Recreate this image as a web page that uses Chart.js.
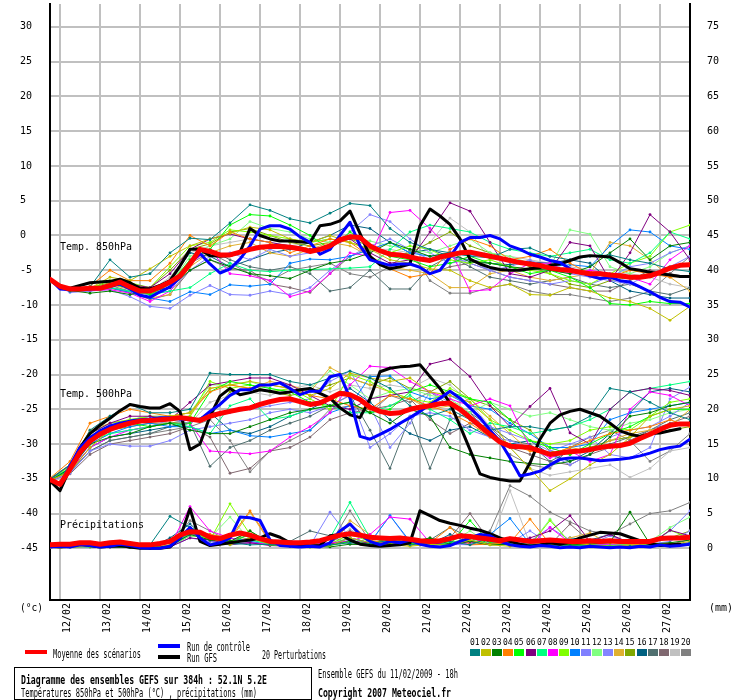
<!DOCTYPE html>
<html>
<head>
<meta charset="utf-8">
<script src="https://cdn.jsdelivr.net/npm/chart.js@4.4.1/dist/chart.umd.min.js"></script>
<style>
  body { margin: 0; background: #fff; }
  canvas { display: block; }
</style>
</head>
<body>
<canvas id="chart" width="740" height="700"></canvas>
<script>
// hours since 11/02/2009 18h (run start). mean / control / GFS every 6h, members every 12h
const dayLabels = ['12/02','13/02','14/02','15/02','16/02','17/02','18/02','19/02','20/02','21/02','22/02','23/02','24/02','25/02','26/02','27/02'];
const dayTickHours = [6,30,54,78,102,126,150,174,198,222,246,270,294,318,342,366];
const tempTicks = [-45,-40,-35,-30,-25,-20,-15,-10,-5,0,5,10,15,20,25,30];
const precipTicks = [0,5,10,15,20,25,30,35,40,45,50,55,60,65,70,75];

const memberColors = ['#008080','#c0c000','#008000','#ff8000','#00ff00','#800080','#00ff80','#ff00ff','#80ff00','#0080ff',
                      '#8080ff','#80ff80','#8484ff','#e0b030','#80a800','#006080','#507070','#806870','#c0c0c0','#808080'];

// Temp 850hPa (°C)
const mean850 = [-6.3,-7.3,-7.7,-7.7,-7.6,-7.6,-7.2,-6.7,-7.4,-8.0, -8.0,-7.4,-6.7,-5.8,-4.1,-2.0,-2.3,-2.8,-2.8,-2.4,
  -2.0,-1.7,-1.6,-1.6,-1.7,-1.9,-2.3,-2.0,-1.5,-0.6, -0.2,-0.3,-1.5,-2.2,-2.7,-2.8,-3.1,-3.4,-3.6,-3.1,
  -2.8,-2.5,-2.4,-2.7,-3.0,-3.3,-3.6,-3.9,-4.1,-4.3, -4.7,-4.9,-5.0,-5.3,-5.5,-5.5,-5.7,-5.8,-6.0,-6.0, -5.8,-5.3,-4.7,-4.3,-4.2];
const control850 = [-6.3,-7.7,-7.8,-7.7,-7.7,-7.6,-7.3,-7.0,-7.7,-8.6, -8.9,-8.1,-7.4,-6.0,-3.9,-2.6,-4.1,-5.4,-4.8,-3.4,
  -1.5,0.9,1.4,1.4,0.9,-0.2,-1.0,-2.7,-2.0,0.0, 1.9,-1.5,-3.5,-3.9,-4.3,-4.1,-4.1,-4.6,-5.5,-5.0,
  -3.1,-1.0,-0.3,-0.3,0.0,-0.5,-1.5,-2.0,-2.7,-3.1, -3.6,-3.9,-4.8,-5.3,-5.8,-6.2,-6.0,-6.5,-6.7,-7.4, -8.1,-8.9,-9.5,-9.6,-10.3];
const gfs850 = [-6.3,-7.4,-7.6,-7.2,-6.8,-6.7,-6.6,-6.3,-6.8,-7.6, -7.7,-7.2,-6.5,-4.4,-2.0,-2.0,-2.9,-3.0,-2.9,-2.4,
  1.0,0.0,-0.5,-0.8,-0.8,-0.9,-1.0,1.4,1.6,2.1, 3.5,0.3,-3.0,-4.2,-4.8,-4.5,-4.1,1.4,3.8,2.8,
  1.6,-0.5,-3.4,-4.1,-4.6,-4.9,-5.0,-5.0,-4.8,-4.6, -4.3,-4.1,-3.6,-3.1,-2.9,-3.0,-3.1,-3.9,-4.8,-5.0, -5.3,-5.5,-5.7,-5.9,-5.9];
const members850 = [
  [-6.4,-7.8,-7.4,-3.5,-6.0,-5.5,-2.5,-0.4,-0.6,1.8, 4.4,3.6,2.4,1.8,3.2,4.6,4.3,1.0,-1.0,-2.0, -2.5,-3.0,-3.2,-2.0,-1.8,-3.0,-3.5,-3.0,-2.8,-3.5, -4.0,-4.8,-5.2],
  [-6.5,-7.8,-7.6,-6.0,-6.5,-4.8,-3.0,-1.5,-0.5,0.3, 1.2,0.8,-0.5,-1.0,0.0,-1.0,-2.0,-3.5,-4.0,-4.8, -5.0,-6.5,-7.5,-7.0,-8.5,-8.6,-7.5,-8.0,-9.0,-9.5, -10.5,-12.2,-10.2],
  [-6.6,-7.9,-8.3,-8.0,-8.5,-8.0,-7.5,-5.0,-3.5,-4.5, -5.5,-5.8,-6.2,-5.0,-4.0,-3.5,-2.5,-1.0,-2.0,-3.0, -2.5,-3.8,-4.0,-4.5,-4.8,-5.0,-5.5,-4.5,-2.5,-0.5, -3.5,-1.5,-1.0],
  [-6.3,-7.7,-7.3,-5.0,-6.5,-6.5,-4.0,0.0,-1.5,0.5, -0.5,-1.0,-2.5,-1.5,-0.5,-1.0,-3.0,-4.8,-6.0,-5.5, -2.0,-0.5,-1.5,-3.5,-3.0,-2.0,-4.0,-5.5,-6.0,-5.0, -5.5,-6.0,-5.8],
  [-6.6,-8.0,-7.8,-7.0,-7.5,-8.5,-7.0,-3.5,-2.0,1.5, 3.0,2.8,1.5,0.0,-2.0,0.5,-1.5,-3.0,-3.5,-4.5, -4.0,-3.0,-4.0,-4.5,-5.5,-5.0,-6.0,-7.5,-9.8,-10.0, -9.5,-9.8,-9.8],
  [-6.5,-7.8,-7.5,-7.2,-7.0,-7.5,-5.5,-2.0,-0.5,0.2, -0.5,-1.0,-1.5,-2.0,-1.5,-0.5,-2.5,-4.0,-3.5,0.5, 4.7,3.5,-1.0,-5.5,-6.0,-5.0,-1.0,-1.5,-6.5,-2.5, 3.0,0.5,-3.5],
  [-6.4,-7.9,-7.8,-7.5,-8.0,-8.5,-8.0,-7.5,-5.5,-4.0, -5.0,-5.2,-5.0,-4.9,-4.8,-4.7,-4.5,-2.0,0.5,1.5, 1.0,0.5,-1.0,-2.0,-2.5,-3.0,-2.5,-2.0,-3.5,-4.0, -2.5,0.5,-0.5],
  [-6.5,-8.0,-7.9,-7.8,-8.3,-9.5,-8.0,-4.0,-2.0,-5.5, -5.8,-6.5,-8.8,-8.0,-5.5,-2.5,-3.0,3.3,3.6,1.0, -2.0,-8.0,-7.8,-5.5,-4.0,-4.0,-5.5,-5.0,-5.5,-6.0, -7.0,-3.5,-1.5],
  [-6.4,-7.7,-7.6,-6.5,-6.8,-7.5,-4.5,-1.5,-1.0,0.8, 0.5,0.0,-0.5,-1.0,-0.5,-1.0,-2.0,-2.5,-1.5,-2.0, -3.5,-4.0,-3.5,-4.5,-5.0,-5.5,-6.5,-7.0,-5.5,-4.0, -3.0,0.5,1.5],
  [-6.6,-8.1,-7.7,-7.5,-8.2,-9.0,-9.5,-8.1,-8.5,-7.1, -7.3,-7.0,-4.0,-3.4,-3.5,-3.0,-2.0,-1.0,-2.5,-3.0, -2.5,-2.8,-3.0,-3.5,-4.0,-4.5,-4.2,-4.5,-1.5,0.8, 0.5,-1.5,-2.0],
  [-6.7,-8.2,-8.0,-7.8,-8.8,-10.2,-10.5,-8.6,-7.2,-8.5, -8.6,-8.0,-8.5,-7.5,-5.0,-3.0,-1.5,-0.5,-2.0,-3.5, -3.0,-4.0,-5.0,-6.0,-6.5,-7.0,-6.5,-7.0,-6.0,-4.5, -4.0,-2.5,-1.5],
  [-6.5,-7.8,-7.7,-7.0,-7.5,-8.5,-7.0,-3.0,-1.5,-0.5, 2.0,1.0,0.5,-0.5,-1.0,-0.5,-0.8,-1.5,-2.0,-2.5, -1.5,-0.5,-2.5,-3.0,-4.0,-4.5,0.8,0.2,-4.5,-5.5, -4.5,-2.5,-1.5],
  [-6.6,-8.0,-7.9,-7.5,-8.0,-8.5,-8.0,-5.0,-3.0,-2.5, -3.5,-2.0,-3.0,-2.5,-2.0,0.5,3.0,2.0,-0.5,-2.5, -4.0,-3.5,-5.0,-4.5,-3.5,-5.0,-5.5,-6.0,-6.5,-7.0, -5.5,-4.5,-3.0],
  [-6.5,-7.9,-7.8,-7.0,-7.8,-9.0,-8.5,-4.5,-2.5,-1.5, -1.0,-2.5,-3.0,-2.0,-1.0,-1.5,-3.0,-4.5,-5.0,-5.5, -7.5,-7.5,-5.5,-5.0,-6.0,-6.5,-6.0,-5.5,-1.0,-1.5, -3.5,-6.0,-8.0],
  [-6.4,-7.8,-7.5,-6.8,-7.2,-7.5,-5.0,-2.0,-1.2,0.5, 1.0,0.0,-1.0,-1.5,-1.0,-0.5,-1.5,-3.0,-2.5,-1.0, 0.5,-1.5,-2.5,-3.5,-4.5,-5.5,-7.0,-7.5,-6.5,-6.0, -5.5,-4.5,-4.0],
  [-6.5,-7.9,-7.7,-7.0,-7.5,-8.0,-6.5,-2.5,-3.0,-4.5, -3.5,-2.5,-2.0,-1.0,0.0,1.5,1.0,-1.0,-2.5,-2.0, -3.0,-3.5,-4.0,-4.2,-3.8,-4.0,-3.5,-4.0,-6.5,-8.0, -8.5,-9.0,-9.0],
  [-6.6,-8.0,-8.0,-7.5,-8.0,-8.5,-7.5,-3.5,-2.0,-3.5, -4.5,-5.0,-4.5,-5.5,-8.0,-7.5,-5.0,-7.7,-7.7,-4.5, -3.0,-4.5,-6.0,-6.5,-7.0,-6.5,-6.0,-7.0,-7.5,-7.0, -8.0,-8.5,-7.5],
  [-6.5,-8.0,-7.9,-7.6,-8.2,-9.2,-8.5,-5.0,-3.5,-4.8, -5.0,-7.0,-7.5,-8.2,-5.5,-3.0,-2.0,-2.5,-3.0,-5.5, -4.5,-4.0,-5.0,-6.0,-6.5,-7.0,-7.5,-8.0,-8.0,-6.5, -5.0,-5.5,-6.0],
  [-6.5,-7.8,-7.6,-7.0,-7.5,-8.0,-6.0,-2.5,-1.5,-1.0, -0.5,-1.0,-1.5,-1.0,-0.5,-1.0,-2.0,-2.0,-2.5,-1.0, 2.5,0.5,-3.5,-3.0,-3.5,-4.0,-4.5,-5.0,-5.5,-5.5, -6.0,-7.0,-7.5],
  [-6.5,-7.9,-7.8,-7.2,-8.0,-9.0,-7.5,-4.0,-2.5,-4.0, -5.5,-6.5,-5.0,-4.5,-4.0,-5.5,-6.0,-4.5,-2.0,-6.5, -8.3,-8.3,-7.5,-7.0,-8.0,-8.5,-8.5,-9.0,-9.5,-9.0, -8.0,-5.5,-3.0]
];

// Temp 500hPa (°C)
const mean500 = [-35.1,-35.8,-33.6,-31.2,-29.6,-28.6,-27.9,-27.4,-27.0,-26.7, -26.6,-26.5,-26.4,-26.2,-26.4,-26.6,-26.0,-25.6,-25.3,-25.0,
  -24.8,-24.3,-23.9,-23.6,-23.5,-23.9,-24.3,-24.1,-23.4,-22.7, -22.9,-23.6,-24.7,-25.3,-25.6,-25.5,-25.0,-24.7,-24.5,-24.2,
  -24.1,-25.0,-26.2,-27.4,-28.6,-29.7,-30.3,-30.4,-30.5,-31.0, -31.5,-31.3,-31.1,-31.0,-30.8,-30.5,-30.3,-30.2,-29.9,-29.2, -28.6,-27.9,-27.3,-27.1,-27.1];
const control500 = [-35.1,-35.8,-33.1,-30.5,-29.1,-28.1,-27.4,-27.0,-26.7,-26.5, -26.4,-26.2,-26.2,-26.4,-26.5,-26.5,-25.3,-24.3,-23.0,-22.2,
  -22.2,-21.5,-21.5,-21.2,-22.0,-22.9,-22.4,-22.4,-20.3,-20.0, -23.4,-28.9,-29.3,-28.6,-27.9,-27.0,-26.2,-25.3,-24.3,-23.4,
  -22.4,-23.4,-24.8,-26.2,-28.0,-29.6,-32.0,-34.6,-34.3,-33.9, -33.0,-32.2,-32.0,-32.0,-32.2,-32.4,-32.3,-32.2,-32.0,-31.7, -31.3,-30.8,-30.5,-30.3,-29.3];
const gfs500 = [-35.3,-36.7,-33.5,-30.5,-28.5,-27.3,-26.3,-25.2,-24.3,-24.6, -24.8,-24.8,-24.2,-25.3,-30.8,-30.0,-26.0,-23.1,-22.0,-22.9,
  -22.6,-22.2,-22.4,-22.7,-22.5,-22.2,-22.0,-22.7,-23.4,-24.8, -25.8,-26.2,-23.5,-19.6,-19.1,-18.9,-18.8,-18.6,-20.3,-22.0,
  -24.1,-27.4,-30.8,-34.3,-34.8,-35.1,-35.3,-35.3,-32.7,-29.3, -27.0,-25.8,-25.3,-25.0,-25.5,-26.0,-27.0,-28.1,-28.6,-28.9, -28.5,-28.4,-28.1,-27.8,null];
const members500 = [
  [-35.0,-33.0,-28.0,-26.0,-24.3,-25.5,-25.5,-25.0,-19.8,-20.0, -20.0,-20.0,-21.0,-21.5,-20.5,-19.5,-20.5,-22.0,-24.5,-26.0, -25.0,-26.5,-28.0,-27.5,-27.5,-28.0,-27.5,-26.0,-22.0,-22.5, -24.0,-25.5,-26.5],
  [-35.2,-34.0,-30.5,-28.0,-27.0,-26.5,-26.0,-25.5,-22.0,-21.5, -21.0,-21.5,-22.0,-23.0,-22.0,-19.8,-20.5,-21.0,-20.5,-22.5, -23.0,-24.0,-26.5,-30.5,-33.5,-36.7,-35.0,-33.0,-31.5,-29.0, -26.0,-25.0,-24.5],
  [-35.3,-33.5,-30.0,-29.0,-28.5,-27.5,-27.0,-28.0,-28.5,-28.5, -27.5,-26.5,-25.5,-25.0,-24.5,-24.0,-25.5,-27.0,-25.0,-26.0, -30.5,-31.5,-32.0,-32.5,-32.8,-33.0,-32.5,-31.5,-29.0,-26.0, -25.5,-24.5,-24.0],
  [-34.9,-32.5,-27.0,-26.0,-25.0,-25.5,-26.0,-25.5,-22.5,-21.5, -22.0,-21.5,-22.0,-23.0,-23.5,-24.5,-25.0,-23.0,-23.5,-24.5, -25.5,-27.0,-29.0,-30.0,-31.0,-31.5,-30.5,-29.5,-28.5,-28.0, -27.5,-26.5,-27.5],
  [-35.2,-33.8,-29.8,-28.0,-27.0,-27.5,-27.0,-27.0,-22.5,-21.0, -21.5,-22.0,-22.5,-24.0,-24.5,-24.0,-25.5,-25.0,-22.5,-21.5, -22.5,-23.5,-24.0,-26.5,-29.5,-30.5,-31.5,-30.0,-28.5,-27.5, -26.0,-25.0,-25.0],
  [-35.1,-33.0,-28.5,-27.0,-26.0,-26.0,-26.5,-24.0,-21.5,-21.0, -20.5,-20.5,-21.5,-23.0,-24.5,-25.0,-23.5,-23.0,-22.5,-18.5, -17.8,-20.3,-24.5,-27.5,-24.6,-22.0,-28.4,-30.0,-25.0,-22.5, -22.0,-22.3,-23.0],
  [-35.0,-33.5,-29.5,-28.5,-28.0,-27.5,-27.0,-27.5,-28.5,-24.5, -23.5,-26.5,-26.0,-25.0,-24.5,-25.5,-25.5,-24.5,-23.0,-25.0, -26.5,-28.5,-27.0,-27.5,-28.5,-28.0,-27.5,-26.5,-25.0,-22.5, -22.0,-21.5,-21.0],
  [-35.2,-33.8,-30.5,-29.0,-28.0,-27.5,-27.0,-27.0,-31.0,-31.2, -31.4,-31.0,-29.0,-27.5,-25.5,-21.5,-18.8,-19.0,-21.0,-22.5, -23.5,-24.5,-23.5,-24.5,-30.5,-32.0,-31.0,-32.5,-31.5,-25.0, -22.5,-23.0,-24.5],
  [-35.1,-33.2,-28.5,-27.0,-26.5,-26.0,-26.5,-26.0,-21.0,-22.0, -21.5,-22.5,-22.0,-23.5,-25.0,-20.0,-21.0,-22.5,-23.5,-24.0, -22.0,-23.5,-26.5,-28.0,-29.5,-30.0,-29.5,-28.0,-27.5,-28.0, -26.0,-24.0,-23.5],
  [-35.2,-33.5,-30.0,-28.5,-27.5,-27.0,-27.5,-27.5,-28.5,-28.0, -28.8,-29.0,-28.5,-28.0,-25.5,-24.5,-20.3,-20.2,-22.5,-23.5, -23.0,-24.5,-25.0,-27.0,-28.5,-30.5,-30.5,-30.0,-26.5,-25.5, -25.0,-24.5,-24.0],
  [-35.3,-34.2,-31.0,-30.0,-30.3,-30.3,-29.5,-28.0,-27.5,-27.0, -26.5,-25.5,-25.0,-25.5,-24.5,-23.0,-30.5,-28.5,-26.0,-25.5, -26.0,-28.0,-29.0,-29.5,-30.5,-31.5,-33.0,-31.5,-29.0,-28.0, -27.5,-26.0,-24.0],
  [-35.0,-33.2,-29.0,-27.5,-26.5,-26.0,-26.0,-25.5,-21.5,-21.5, -21.0,-22.0,-22.5,-22.0,-19.5,-21.5,-23.5,-22.5,-22.0,-23.0, -23.5,-25.5,-24.0,-25.0,-26.0,-25.5,-26.5,-27.5,-28.0,-27.0, -26.5,-25.5,-25.0],
  [-35.2,-33.8,-30.0,-28.5,-28.0,-27.5,-26.5,-27.0,-25.5,-25.5, -25.0,-24.5,-24.0,-23.5,-21.0,-19.5,-24.5,-30.5,-27.0,-22.5, -24.0,-26.0,-27.5,-28.5,-29.5,-31.0,-30.0,-29.0,-31.5,-32.0, -30.5,-23.5,-21.8],
  [-35.0,-33.0,-28.0,-27.0,-26.5,-26.0,-26.0,-26.0,-22.0,-21.5, -22.0,-21.0,-21.5,-22.5,-19.0,-20.5,-21.5,-22.5,-23.5,-25.0, -24.5,-23.5,-26.0,-28.5,-31.0,-31.5,-30.5,-31.0,-29.5,-28.5, -28.0,-27.5,-25.0],
  [-35.1,-33.5,-29.5,-28.0,-27.5,-27.0,-27.0,-26.5,-26.0,-22.5, -22.0,-22.5,-23.0,-22.5,-21.5,-20.5,-21.5,-20.5,-22.0,-22.5, -21.0,-23.5,-24.5,-26.5,-28.0,-31.0,-31.5,-30.5,-29.5,-29.0, -28.5,-28.0,-27.5],
  [-35.3,-33.8,-30.5,-29.0,-28.5,-28.0,-27.5,-27.0,-25.5,-28.0, -28.5,-27.5,-26.0,-25.0,-23.5,-22.0,-24.0,-26.5,-28.5,-29.5, -28.0,-27.5,-29.0,-30.0,-29.5,-31.5,-32.5,-31.0,-28.5,-25.5, -22.5,-22.0,-22.5],
  [-35.2,-34.0,-31.0,-29.5,-29.0,-28.5,-27.5,-27.0,-33.2,-30.5, -29.5,-28.0,-27.0,-26.0,-24.5,-23.0,-28.0,-33.5,-26.0,-33.5, -26.5,-25.5,-27.5,-29.5,-30.0,-32.5,-31.0,-30.5,-30.0,-29.0, -28.0,-26.5,-25.5],
  [-35.3,-34.3,-31.5,-30.0,-29.5,-29.0,-28.5,-27.5,-29.0,-34.2, -33.5,-31.0,-30.5,-29.0,-26.5,-25.5,-25.0,-24.5,-23.5,-26.5, -28.5,-27.0,-27.5,-30.5,-31.5,-32.5,-33.0,-31.5,-30.5,-29.5, -28.0,-27.0,-26.0],
  [-35.2,-33.6,-29.0,-27.5,-27.0,-26.5,-27.0,-27.0,-24.0,-23.0, -22.5,-23.0,-22.0,-21.5,-22.5,-21.5,-22.0,-21.5,-22.0,-20.5, -21.5,-24.0,-27.5,-30.5,-33.5,-34.5,-34.0,-33.5,-33.0,-34.8, -33.5,-31.0,-30.5],
  [-35.2,-34.0,-31.0,-29.5,-29.0,-28.5,-28.0,-27.5,-26.5,-29.5, -34.0,-31.0,-29.5,-28.0,-25.0,-24.5,-25.5,-23.0,-24.0,-22.5, -24.5,-25.5,-28.5,-31.5,-33.0,-33.5,-30.5,-29.0,-28.0,-29.5, -32.5,-31.0,-28.5]
];

// Precipitation (mm)
const meanPrecip = [0.5,0.6,0.6,0.8,0.8,0.6,0.8,0.9,0.7,0.5, 0.5,0.7,1.0,1.9,2.4,2.3,1.6,1.4,1.9,2.2,
  1.9,1.4,1.0,0.9,0.8,0.8,0.9,1.1,1.5,1.9, 2.1,1.9,1.6,1.5,1.4,1.5,1.3,1.1,1.0,1.1,
  1.4,1.8,1.7,1.5,1.3,1.1,1.4,1.2,1.0,1.1, 1.2,1.1,1.0,1.0,1.1,1.0,1.1,1.0,1.0,1.0, 1.0,1.4,1.5,1.5,1.6];
const controlPrecip = [0.2,0.3,0.2,0.5,0.4,0.2,0.3,0.6,0.4,0.1, 0.0,0.0,0.3,1.5,3.0,1.5,0.5,0.8,1.5,4.5,
  4.4,4.0,1.2,0.4,0.3,0.2,0.3,0.2,0.8,2.5, 3.5,2.0,1.0,0.5,1.0,0.8,1.2,0.6,0.3,0.2,
  0.4,1.0,1.5,2.0,1.8,1.0,0.5,0.3,0.2,0.4, 0.3,0.1,0.2,0.1,0.3,0.2,0.1,0.2,0.1,0.3, 0.2,0.5,0.3,0.4,0.6];
const gfsPrecip = [0.3,0.2,0.3,0.6,0.4,0.2,0.3,0.4,0.2,0.0, 0.0,0.0,0.2,1.5,5.7,1.0,0.4,0.6,0.8,1.0,
  1.2,1.5,2.1,1.6,0.8,0.5,0.3,0.4,1.8,2.0, 1.2,0.6,0.4,0.3,0.4,0.5,0.8,5.4,4.7,4.0,
  3.6,3.3,2.9,2.6,2.1,1.5,1.0,0.6,0.3,0.5, 0.8,0.6,0.9,1.5,1.9,2.3,2.2,2.1,1.6,1.1, 0.7,0.4,0.5,0.6,null];
const membersPrecip = [
  [0.2,0.3,0.5,0.3,0.2,0.5,4.6,3.0,1.5,0.8, 0.5,0.6,0.3,0.2,0.5,0.8,0.6,1.2,0.5,0.8, 1.0,0.5,1.5,0.8,0.6,0.5,0.3,0.4,0.2,0.3, 0.5,0.4,0.8],
  [0.1,0.2,0.3,0.4,0.2,0.0,0.5,2.5,1.5,0.5, 1.5,0.6,0.3,0.2,0.4,1.5,0.8,0.5,0.3,0.6, 0.4,1.2,0.5,0.3,0.6,0.4,0.8,0.5,0.3,0.4, 0.6,0.5,1.0],
  [0.3,0.4,0.3,0.2,0.1,0.0,0.4,2.0,1.2,1.0, 2.5,0.8,0.4,0.3,0.2,0.6,0.5,0.8,0.9,1.5, 0.6,1.0,0.5,0.6,0.4,0.8,0.5,0.6,0.9,5.2, 0.6,0.8,1.2],
  [0.2,0.3,0.4,0.3,0.2,0.1,0.3,2.8,2.0,1.5, 5.4,1.0,0.5,0.4,0.6,3.5,1.2,0.6,0.5,0.8, 3.0,0.5,0.6,0.8,4.2,0.6,0.5,0.7,0.8,0.6, 0.5,0.7,0.6],
  [0.2,0.2,0.3,0.5,0.3,0.1,0.3,3.0,1.8,0.8, 2.0,0.5,0.3,0.2,0.4,1.0,0.6,1.5,0.7,0.5, 0.6,4.0,0.8,0.5,0.3,0.6,0.4,0.5,0.3,0.2, 0.4,0.3,0.5],
  [0.1,0.2,0.3,0.2,0.1,0.0,0.2,1.5,1.2,0.6, 0.8,0.4,0.3,0.5,0.6,1.0,0.8,0.5,1.2,0.8, 0.5,1.0,0.6,0.8,1.5,2.5,4.7,1.0,2.0,0.8, 0.6,2.6,1.8],
  [0.2,0.3,0.2,0.3,0.2,0.1,0.3,2.2,1.5,0.8, 1.2,0.6,0.5,0.4,1.5,6.6,1.5,0.8,0.6,0.5, 0.8,1.2,0.6,0.5,0.3,0.4,0.6,0.5,0.4,0.5, 0.3,0.4,0.6],
  [0.2,0.3,0.3,0.2,0.1,0.0,0.3,6.0,2.5,1.5, 0.8,0.6,0.4,0.5,0.8,1.0,2.0,4.5,4.2,0.8, 0.6,0.8,1.5,0.6,0.5,3.0,0.8,0.6,0.5,0.4, 0.6,0.5,0.8],
  [0.1,0.2,0.3,0.4,0.2,0.1,0.4,2.5,1.2,6.4, 2.0,1.0,0.5,0.4,0.6,2.0,1.0,0.8,0.5,0.6, 0.8,1.5,0.6,0.5,0.4,4.0,0.8,0.5,0.4,0.6, 0.5,2.6,1.5],
  [0.2,0.3,0.4,0.3,0.2,0.0,0.3,2.0,1.8,1.5, 1.0,0.5,0.4,0.6,0.5,1.5,0.8,4.7,1.0,0.8, 0.6,1.0,2.0,4.3,0.6,0.5,0.4,0.6,0.8,1.0, 0.5,0.4,0.6],
  [0.3,0.3,0.2,0.3,0.2,0.1,0.2,1.5,1.0,0.6, 0.8,0.5,0.6,0.4,5.2,1.5,0.8,4.7,0.8,0.5, 0.6,0.5,0.8,0.6,1.0,3.0,1.2,0.6,0.5,0.8, 0.6,2.5,5.4],
  [0.2,0.2,0.3,0.2,0.1,0.0,0.3,1.8,1.5,4.5, 1.2,0.6,0.5,0.3,0.8,1.5,0.6,0.8,0.5,0.6, 0.8,2.5,0.6,0.8,0.5,4.2,0.8,0.6,0.5,0.4, 1.0,3.0,4.5],
  [0.2,0.3,0.3,0.2,0.1,0.1,0.2,2.5,1.5,0.8, 1.0,0.5,0.3,0.6,0.5,1.2,0.6,1.0,0.6,0.8, 0.5,0.6,1.5,0.8,2.5,0.6,0.5,0.6,1.8,0.8, 0.6,1.0,2.5],
  [0.1,0.2,0.3,0.3,0.2,0.0,0.3,2.5,1.8,1.2, 5.2,0.8,0.4,0.5,0.6,4.0,2.0,0.6,0.5,0.4, 0.6,0.8,0.5,0.6,0.8,0.5,1.5,2.2,0.6,0.5, 0.8,0.6,0.5],
  [0.2,0.3,0.2,0.3,0.2,0.1,0.3,1.8,1.5,0.8, 2.5,0.6,0.4,0.3,0.5,1.5,0.8,0.6,0.5,0.8, 0.6,1.0,0.8,0.6,0.5,1.2,0.6,0.5,0.4,0.6, 0.8,1.5,2.5],
  [0.3,0.4,0.3,0.2,0.1,0.0,1.5,3.5,1.0,0.5, 0.8,0.6,0.5,0.8,0.6,1.0,0.6,1.2,0.8,0.6, 2.0,0.8,1.0,0.6,0.5,0.8,1.5,1.2,2.0,0.6, 0.8,0.5,0.4],
  [0.2,0.3,0.2,0.3,0.2,0.1,0.4,3.0,1.5,1.0, 2.0,0.6,1.0,2.5,1.8,0.6,0.5,0.8,0.6,1.2, 3.0,1.5,0.8,0.6,0.5,0.6,0.8,0.6,0.5,0.4, 0.6,0.8,0.5],
  [0.2,0.2,0.3,0.2,0.1,0.0,0.3,2.2,1.2,0.8, 1.5,0.8,0.5,0.4,0.8,2.5,1.0,0.8,0.6,0.8, 1.5,5.0,1.0,0.8,0.6,0.5,3.5,1.0,0.6,0.5, 0.8,0.6,1.2],
  [0.2,0.3,0.2,0.3,0.2,0.1,0.2,2.5,2.0,1.5, 1.0,0.6,0.5,0.4,0.6,2.8,0.8,0.6,0.5,0.6, 0.8,1.0,0.8,8.3,0.6,0.5,0.4,0.5,0.3,0.4, 0.5,0.6,0.5],
  [0.2,0.3,0.3,0.2,0.1,0.0,0.3,4.0,2.5,1.0, 1.5,0.8,0.5,0.4,0.6,5.4,1.0,0.8,0.6,1.5, 0.8,1.0,2.5,9.0,7.5,5.2,3.8,2.5,2.0,3.5, 5.0,5.4,6.6]
];

// turn a value list into {x: hour, y} points
function series(values, step) {
    return values.map((v, i) => ({ x: i * step, y: v }));
}

let datasets = [];

function addRun(values, axis, color, width, order) {
    datasets.push({
        data: series(values, 6),
        yAxisID: axis,
        borderColor: color,
        backgroundColor: color,
        borderWidth: width,
        pointRadius: 0,
        borderJoinStyle: 'round',
        borderCapStyle: 'round',
        fill: false,
        order: order
    });
}

function addMembers(list, axis) {
    for (let m = 0; m < list.length; m++) {
        datasets.push({
            data: series(list[m], 12),
            yAxisID: axis,
            borderColor: memberColors[m],
            backgroundColor: memberColors[m],
            borderWidth: 1,
            pointRadius: 1.4,
            pointBorderWidth: 0,
            fill: false,
            order: 3
        });
    }
}

// mean on top, then control, GFS, members underneath
addRun(mean850, 'y', '#ff0000', 5, 0);
addRun(mean500, 'y', '#ff0000', 5, 0);
addRun(meanPrecip, 'y2', '#ff0000', 5, 0);
addRun(control850, 'y', '#0000ff', 3, 1);
addRun(control500, 'y', '#0000ff', 3, 1);
addRun(controlPrecip, 'y2', '#0000ff', 3, 1);
addRun(gfs850, 'y', '#000000', 3, 2);
addRun(gfs500, 'y', '#000000', 3, 2);
addRun(gfsPrecip, 'y2', '#000000', 3, 2);
addMembers(members850, 'y');
addMembers(members500, 'y');
addMembers(membersPrecip, 'y2');

const mono = 'DejaVu Sans Mono';

// texts inside the plot and the legend block under it
const overlay = {
    id: 'overlay',
    beforeDatasetsDraw(chart) {
        const ctx = chart.ctx;
        ctx.save();
        ctx.fillStyle = '#000';
        ctx.font = '11px "' + mono + '"';
        ctx.fillText('Temp. 850hPa', 60, 250, 72);
        ctx.fillText('Temp. 500hPa', 60, 397, 72);
        ctx.fillText('Précipitations', 60, 528, 84);
        ctx.restore();
    },
    afterDraw(chart) {
        const ctx = chart.ctx;
        ctx.save();
        ctx.fillStyle = '#000';
        ctx.font = '11px "' + mono + '"';
        ctx.fillText('(°c)', 20, 611, 23);
        ctx.fillText('(mm)', 709, 611, 24);

        ctx.fillStyle = '#ff0000';
        ctx.fillRect(25, 650, 22, 4);
        ctx.fillStyle = '#0000ff';
        ctx.fillRect(158, 644, 22, 4);
        ctx.fillStyle = '#000000';
        ctx.fillRect(158, 655, 22, 4);

        ctx.fillStyle = '#000';
        ctx.font = '13px "' + mono + '"';
        ctx.fillText('Moyenne des scénarios', 53, 658, 88);
        ctx.fillText('Run de contrôle', 187, 651, 63);
        ctx.fillText('Run GFS', 187, 662, 30);
        ctx.fillText('20 Perturbations', 262, 659, 64);

        for (let k = 0; k < memberColors.length; k++) {
            const bx = Math.round(470 + k * 11.1);
            ctx.fillStyle = memberColors[k];
            ctx.fillRect(bx, 649, 10, 7);
            ctx.fillStyle = '#000';
            ctx.font = '8px "' + mono + '"';
            ctx.fillText(String(k + 1).padStart(2, '0'), bx, 645, 10);
        }

        ctx.strokeStyle = '#000';
        ctx.lineWidth = 1;
        ctx.strokeRect(14.5, 667.5, 297, 32);
        ctx.fillStyle = '#000';
        ctx.font = 'bold 13px "' + mono + '"';
        ctx.fillText('Diagramme des ensembles GEFS sur 384h : 52.1N 5.2E', 21, 684, 246);
        ctx.font = '12px "' + mono + '"';
        ctx.fillText('Températures 850hPa et 500hPa (°C) , précipitations (mm)', 21, 697, 236);
        ctx.fillText('Ensemble GEFS du 11/02/2009 - 18h', 318, 678, 140);
        ctx.font = 'bold 13px "' + mono + '"';
        ctx.fillText('Copyright 2007 Meteociel.fr', 318, 697, 133);
        ctx.restore();
    }
};

const tickFont = { family: mono, size: 10 };

new Chart(document.getElementById('chart'), {
    type: 'line',
    data: { datasets: datasets },
    options: {
        responsive: false,
        animation: false,
        devicePixelRatio: 1,
        events: [],
        layout: { padding: { left: 20, right: 0, top: 0, bottom: 0 } },
        plugins: { legend: { display: false }, tooltip: { enabled: false } },
        elements: { line: { tension: 0 } },
        scales: {
            x: {
                type: 'linear',
                min: 0,
                max: 384,
                afterBuildTicks: s => { s.ticks = dayTickHours.map(v => ({ value: v })); },
                afterFit: s => { s.height = 100; s.paddingLeft = 0; s.paddingRight = 0; },
                ticks: {
                    autoSkip: false, minRotation: 90, maxRotation: 90,
                    labelOffset: 7, padding: 3, color: '#000', font: tickFont,
                    callback: (v, i) => dayLabels[i]
                },
                grid: { color: '#c0c0c0', lineWidth: 2, drawTicks: false },
                border: { color: '#000', width: 2 }
            },
            y: {
                position: 'left',
                min: -52.43,
                max: 33.29,
                afterBuildTicks: s => { s.ticks = tempTicks.map(v => ({ value: v })); },
                afterFit: s => { s.width = 30; s.paddingTop = 0; s.paddingBottom = 0; },
                ticks: { crossAlign: 'far', color: '#000', font: tickFont },
                grid: { color: '#c0c0c0', lineWidth: 2, drawTicks: false },
                border: { color: '#000', width: 2 }
            },
            y2: {
                position: 'right',
                min: -7.43,
                max: 78.29,
                afterBuildTicks: s => { s.ticks = precipTicks.map(v => ({ value: v })); },
                afterFit: s => { s.width = 50; s.paddingTop = 0; s.paddingBottom = 0; },
                ticks: { padding: 17, color: '#000', font: tickFont },
                grid: { display: false, drawTicks: false },
                border: { color: '#000', width: 2 }
            }
        }
    },
    plugins: [overlay]
});
</script>
</body>
</html>
